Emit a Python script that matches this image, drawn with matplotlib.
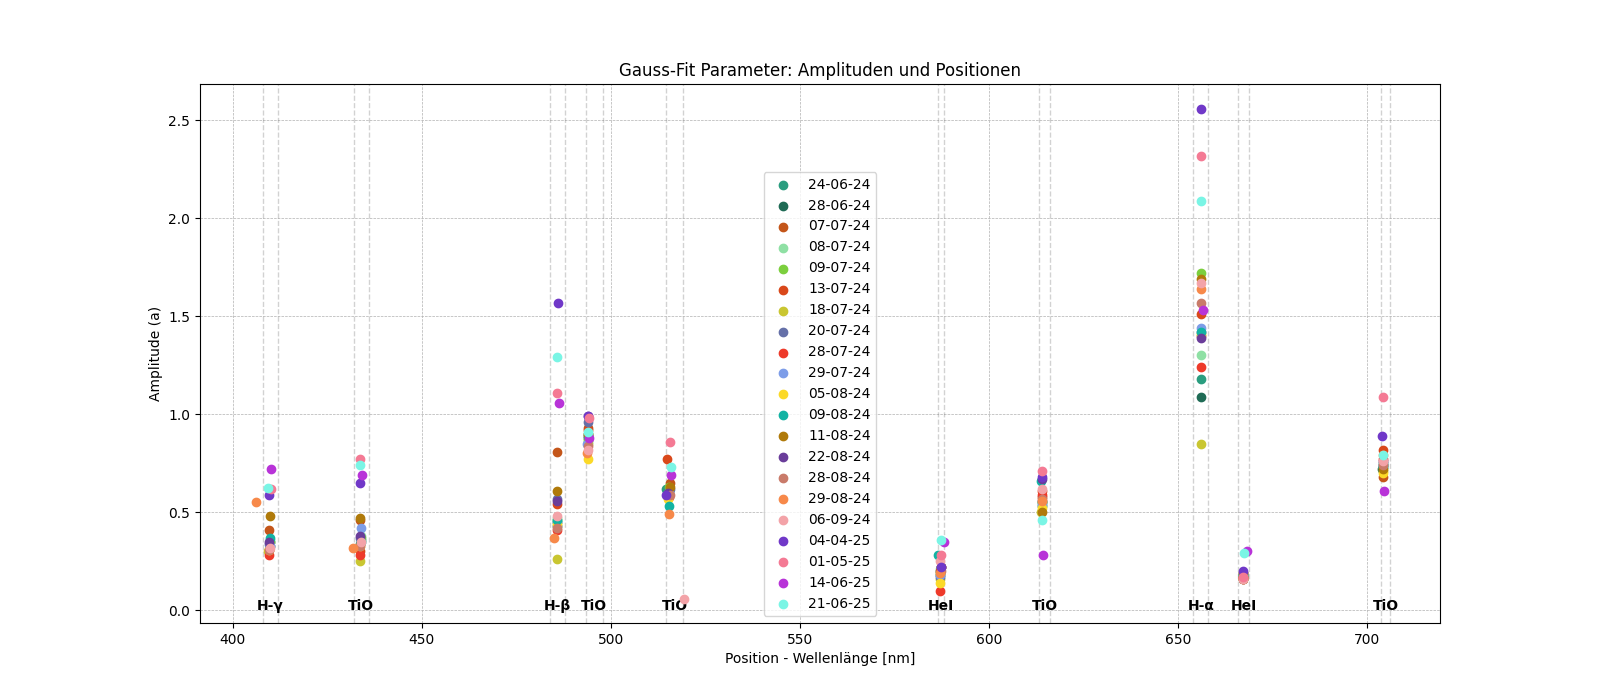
#Gauss-Fit Amplituden vs Positionen fuer alle Messnaechte
import matplotlib.pyplot as plt
import numpy as np

dates = ['24-06-24', '28-06-24', '07-07-24', '08-07-24', '09-07-24', '13-07-24', '18-07-24',
         '20-07-24', '28-07-24', '29-07-24', '05-08-24', '09-08-24', '11-08-24', '22-08-24',
         '28-08-24', '29-08-24', '06-09-24', '04-04-25', '01-05-25', '14-06-25', '21-06-25']
colors = ['#2a9d7f', '#1f6b55', '#c4561a', '#8fe0a4', '#7ccf3e', '#d9481a', '#c9c631',
          '#6570a8', '#ee3a2a', '#7d9de8', '#fbd928', '#12b3a3', '#b07a0a', '#6a3d9a',
          '#c97b6a', '#f7894a', '#f3a3a8', '#7038c8', '#f47a94', '#b833d8', '#7af5e5']

#Linien und Fitbereiche
line_names = ['H-γ', 'TiO', 'H-β', 'TiO', 'TiO', 'HeI', 'TiO', 'H-α', 'HeI', 'TiO']
range_lo = [408.0, 432.0, 484.0, 493.4, 514.6, 586.4, 613.2, 654.0, 665.9, 703.5]
range_hi = [412.0, 436.0, 488.0, 497.9, 519.1, 588.2, 616.1, 658.0, 668.8, 706.1]

#Amplituden / Positionen pro Linie (Reihenfolge wie dates)
amp_hg = [0.35, 0.33, 0.41, 0.36, 0.35, 0.31, 0.30, 0.34, 0.28, 0.33, 0.31, 0.37, 0.48, 0.35, 0.31, 0.55, 0.32, 0.59, 0.62, 0.72, 0.625]
pos_hg = [409.8, 409.9, 409.7, 409.9, 409.8, 409.6, 409.5, 409.7, 409.6, 409.8, 409.6, 409.9, 409.8, 409.6, 409.7, 406.2, 409.8, 409.7, 410.2, 410.2, 409.4]

amp_tio434 = [0.36, 0.34, 0.46, 0.38, 0.37, 0.30, 0.25, 0.37, 0.28, 0.42, 0.33, 0.35, 0.47, 0.38, 0.33, 0.32, 0.35, 0.65, 0.77, 0.69, 0.74]
pos_tio434 = [433.9, 433.8, 433.8, 434.0, 433.9, 433.7, 433.8, 433.8, 433.8, 434.0, 433.7, 433.9, 433.8, 433.8, 433.8, 431.9, 434.0, 433.8, 433.8, 434.1, 433.7]

amp_hb = [0.45, 0.43, 0.81, 0.47, 0.46, 0.54, 0.26, 0.57, 0.41, 0.45, 0.44, 0.46, 0.61, 0.56, 0.42, 0.37, 0.48, 1.57, 1.11, 1.06, 1.29]
pos_hb = [485.8, 485.9, 485.8, 485.9, 485.8, 485.8, 485.8, 485.8, 485.9, 485.9, 485.8, 485.8, 485.8, 485.8, 485.8, 485.1, 485.8, 486.0, 485.8, 486.4, 485.8]

amp_tio494 = [0.90, 0.88, 0.93, 0.86, 0.87, 0.92, 0.85, 0.96, 0.89, 0.85, 0.77, 0.89, 0.90, 0.99, 0.84, 0.80, 0.82, 0.99, 0.98, 0.88, 0.91]
pos_tio494 = [494.0, 493.9, 494.0, 494.1, 494.0, 494.0, 493.9, 494.0, 494.0, 493.8, 494.0, 494.0, 494.0, 494.0, 494.0, 493.8, 494.0, 494.1, 494.2, 494.2, 494.1]

amp_tio515 = [0.62, 0.60, 0.65, 0.61, 0.63, 0.77, 0.60, 0.62, 0.58, 0.60, 0.57, 0.53, 0.63, 0.60, 0.59, 0.49, 0.06, 0.59, 0.86, 0.69, 0.73]
pos_tio515 = [514.6, 515.0, 515.6, 515.4, 515.5, 514.9, 515.3, 515.6, 515.3, 515.4, 515.2, 515.5, 515.6, 515.2, 515.6, 515.4, 519.3, 514.5, 515.6, 515.8, 515.9]

amp_hei587 = [0.20, 0.18, 0.22, 0.21, 0.19, 0.20, 0.16, 0.17, 0.10, 0.18, 0.14, 0.28, 0.22, 0.22, 0.20, 0.19, 0.25, 0.22, 0.28, 0.35, 0.36]
pos_hei587 = [587.1, 587.0, 587.2, 587.1, 587.0, 587.1, 587.0, 587.0, 587.0, 587.1, 587.0, 586.6, 587.3, 587.3, 587.2, 587.0, 586.9, 587.2, 587.2, 588.1, 587.2]

amp_tio614 = [0.55, 0.53, 0.58, 0.54, 0.55, 0.61, 0.50, 0.56, 0.59, 0.54, 0.52, 0.66, 0.50, 0.67, 0.57, 0.56, 0.62, 0.68, 0.71, 0.28, 0.46]
pos_tio614 = [613.9, 613.9, 614.0, 613.9, 613.9, 614.0, 613.8, 613.9, 614.0, 613.9, 613.9, 613.8, 613.9, 614.0, 613.9, 613.9, 613.9, 614.0, 613.9, 614.3, 614.0]

amp_ha = [1.18, 1.09, 1.40, 1.30, 1.72, 1.51, 0.85, 1.42, 1.24, 1.44, 1.41, 1.42, 1.69, 1.39, 1.57, 1.64, 1.67, 2.56, 2.32, 1.53, 2.09]
pos_ha = [656.0, 656.0, 655.9, 656.0, 655.9, 656.0, 656.0, 656.1, 656.0, 656.1, 656.0, 656.0, 656.1, 656.0, 656.0, 656.0, 656.0, 656.0, 656.0, 656.6, 656.0]

amp_hei667 = [0.17, 0.16, 0.19, 0.17, 0.18, 0.17, 0.16, 0.18, 0.16, 0.19, 0.17, 0.18, 0.19, 0.17, 0.16, 0.17, 0.16, 0.20, 0.17, 0.30, 0.29]
pos_hei667 = [667.1, 667.0, 667.2, 667.1, 667.1, 667.0, 667.0, 667.1, 667.0, 667.2, 667.1, 667.1, 667.2, 667.0, 667.1, 667.1, 667.0, 667.0, 667.1, 668.1, 667.5]

amp_tio704 = [0.74, 0.72, 0.68, 0.73, 0.75, 0.82, 0.71, 0.74, 0.77, 0.75, 0.70, 0.73, 0.72, 0.76, 0.74, 0.79, 0.76, 0.89, 1.09, 0.61, 0.79]
pos_tio704 = [704.0, 703.9, 704.1, 704.0, 704.0, 704.1, 704.0, 704.0, 704.1, 704.0, 704.1, 704.0, 704.1, 704.0, 704.0, 704.1, 704.0, 703.9, 704.0, 704.5, 704.1]

amps = np.array([amp_hg, amp_tio434, amp_hb, amp_tio494, amp_tio515,
                 amp_hei587, amp_tio614, amp_ha, amp_hei667, amp_tio704])
poss = np.array([pos_hg, pos_tio434, pos_hb, pos_tio494, pos_tio515,
                 pos_hei587, pos_tio614, pos_ha, pos_hei667, pos_tio704])


fig, ax = plt.subplots(figsize=(16, 7), dpi=100)

for i in range(len(dates)):
    ax.scatter(poss[:, i], amps[:, i], color=colors[i], label=dates[i], zorder=3)

for j in range(len(line_names)):
    ax.axvline(range_lo[j], color='gray', linestyle='--', alpha=0.35, linewidth=1)
    ax.axvline(range_hi[j], color='gray', linestyle='--', alpha=0.35, linewidth=1)
    ax.text((range_lo[j] + range_hi[j]) / 2, -0.012, line_names[j], ha='center', va='bottom',
            fontsize=10, fontweight='bold', zorder=2)

ax.set_xlim(391.4, 719.2)
ax.set_ylim(-0.065, 2.685)
ax.set_title('Gauss-Fit Parameter: Amplituden und Positionen')
ax.set_xlabel('Position - Wellenlänge [nm]')
ax.set_ylabel('Amplitude (a)')
ax.grid(True, linestyle='--', linewidth=0.5)
ax.legend(loc='lower center')

plt.savefig('out.png')
